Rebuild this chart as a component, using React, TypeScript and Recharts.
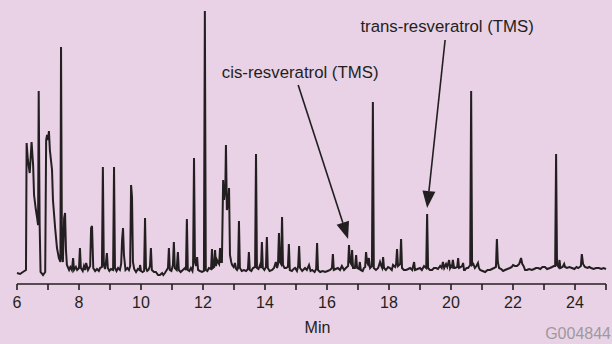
import { LineChart, Line, XAxis, YAxis, ReferenceLine } from "recharts";

const ticks = [6, 7, 8, 9, 10, 11, 12, 13, 14, 15, 16, 17, 18, 19, 20, 21, 22, 23, 24, 25];
const labelledTicks = [6, 8, 10, 12, 14, 16, 18, 20, 22, 24];

// [retention time (min), detector signal]
const trace: [number, number][] = [
  [6.0, 11], [6.1, 10], [6.19, 12], [6.29, 14], [6.31, 141], [6.35, 124], [6.41, 111], [6.47, 142],
  [6.52, 119], [6.55, 89], [6.61, 74], [6.65, 66], [6.68, 59], [6.7, 193], [6.73, 60], [6.76, 12],
  [6.84, 9], [6.91, 12], [6.94, 144], [6.97, 149], [7.0, 144], [7.03, 153], [7.06, 134], [7.13, 114],
  [7.16, 84], [7.23, 56], [7.29, 36], [7.35, 26], [7.4, 22], [7.42, 237], [7.45, 29], [7.48, 22],
  [7.52, 66], [7.55, 71], [7.58, 34], [7.61, 19], [7.68, 14], [7.72, 17], [7.77, 14], [7.81, 26],
  [7.84, 14], [7.9, 17], [7.94, 14], [8.0, 16], [8.03, 36], [8.06, 16], [8.12, 13], [8.16, 18],
  [8.2, 14], [8.23, 21], [8.29, 14], [8.36, 18], [8.39, 56], [8.42, 58], [8.46, 16], [8.52, 13],
  [8.58, 15], [8.64, 13], [8.68, 16], [8.74, 17], [8.77, 117], [8.8, 19], [8.84, 15], [8.87, 22],
  [8.9, 31], [8.93, 16], [8.98, 13], [9.03, 15], [9.1, 14], [9.13, 117], [9.16, 16], [9.21, 13],
  [9.26, 16], [9.32, 14], [9.36, 20], [9.39, 44], [9.42, 56], [9.45, 29], [9.5, 14], [9.56, 16],
  [9.61, 14], [9.65, 18], [9.68, 99], [9.71, 87], [9.74, 22], [9.78, 15], [9.84, 12], [9.9, 15],
  [9.95, 14], [9.97, 19], [10.0, 13], [10.05, 12], [10.1, 13], [10.13, 66], [10.16, 16], [10.2, 13],
  [10.24, 14], [10.29, 18], [10.32, 36], [10.35, 14], [10.42, 12], [10.48, 12], [10.55, 9], [10.61, 9],
  [10.68, 11], [10.72, 9], [10.77, 11], [10.83, 14], [10.87, 16], [10.9, 36], [10.93, 14], [10.98, 13],
  [11.03, 19], [11.06, 42], [11.09, 16], [11.15, 14], [11.19, 32], [11.22, 14], [11.28, 12], [11.35, 14],
  [11.42, 16], [11.45, 14], [11.48, 65], [11.51, 14], [11.56, 13], [11.61, 16], [11.66, 13], [11.68, 18],
  [11.71, 126], [11.74, 22], [11.78, 18], [11.81, 27], [11.84, 14], [11.9, 13], [11.97, 12], [12.03, 13],
  [12.06, 273], [12.09, 14], [12.14, 13], [12.19, 16], [12.26, 15], [12.29, 35], [12.32, 16], [12.36, 17],
  [12.39, 34], [12.42, 18], [12.45, 24], [12.48, 22], [12.52, 20], [12.55, 36], [12.58, 22], [12.61, 22],
  [12.65, 104], [12.68, 84], [12.72, 95], [12.74, 139], [12.77, 74], [12.81, 80], [12.84, 96], [12.87, 29],
  [12.91, 22], [12.94, 19], [12.99, 17], [13.03, 21], [13.07, 15], [13.1, 14], [13.13, 16], [13.16, 63],
  [13.19, 16], [13.25, 13], [13.32, 14], [13.39, 13], [13.45, 15], [13.48, 32], [13.51, 14], [13.56, 13],
  [13.61, 16], [13.68, 17], [13.71, 130], [13.74, 16], [13.79, 15], [13.84, 19], [13.87, 16], [13.9, 42],
  [13.93, 16], [13.98, 14], [14.03, 17], [14.06, 47], [14.09, 16], [14.15, 13], [14.23, 14], [14.29, 16],
  [14.35, 22], [14.39, 16], [14.42, 20], [14.45, 51], [14.48, 22], [14.52, 20], [14.55, 67], [14.58, 19],
  [14.63, 16], [14.68, 16], [14.74, 17], [14.77, 40], [14.8, 14], [14.87, 13], [14.92, 15], [14.97, 16],
  [15.03, 13], [15.07, 18], [15.1, 38], [15.13, 16], [15.2, 13], [15.29, 16], [15.35, 14], [15.42, 19],
  [15.47, 13], [15.52, 14], [15.6, 12], [15.65, 15], [15.68, 41], [15.71, 14], [15.78, 12], [15.86, 13],
  [15.94, 12], [16.02, 13], [16.1, 14], [16.16, 16], [16.19, 30], [16.22, 14], [16.28, 15], [16.35, 16],
  [16.42, 14], [16.48, 18], [16.55, 14], [16.61, 16], [16.68, 18], [16.71, 39], [16.74, 22], [16.78, 20],
  [16.81, 34], [16.84, 16], [16.9, 16], [16.94, 29], [16.97, 16], [17.03, 15], [17.06, 22], [17.09, 14],
  [17.15, 13], [17.19, 16], [17.23, 17], [17.26, 32], [17.29, 22], [17.32, 20], [17.35, 26], [17.39, 16],
  [17.45, 18], [17.48, 182], [17.51, 16], [17.58, 14], [17.65, 16], [17.71, 22], [17.75, 18], [17.78, 16],
  [17.81, 27], [17.84, 16], [17.9, 14], [17.97, 17], [18.03, 16], [18.09, 14], [18.13, 19], [18.2, 17],
  [18.23, 20], [18.26, 35], [18.29, 18], [18.36, 20], [18.39, 45], [18.42, 16], [18.48, 14], [18.55, 14],
  [18.62, 15], [18.68, 16], [18.75, 14], [18.78, 18], [18.81, 22], [18.84, 14], [18.92, 15], [19.0, 16],
  [19.06, 14], [19.13, 18], [19.2, 16], [19.23, 70], [19.26, 16], [19.32, 14], [19.39, 14], [19.45, 16],
  [19.52, 16], [19.58, 15], [19.65, 18], [19.7, 16], [19.74, 22], [19.78, 16], [19.84, 20], [19.88, 17],
  [19.94, 24], [19.97, 16], [20.0, 18], [20.03, 17], [20.06, 24], [20.1, 16], [20.13, 16], [20.2, 17],
  [20.23, 26], [20.26, 16], [20.32, 17], [20.36, 18], [20.39, 21], [20.42, 14], [20.45, 14], [20.5, 16],
  [20.55, 16], [20.62, 19], [20.65, 193], [20.68, 19], [20.72, 20], [20.77, 16], [20.82, 18], [20.87, 21],
  [20.9, 16], [20.94, 14], [21.02, 13], [21.1, 12], [21.18, 14], [21.26, 14], [21.32, 15], [21.39, 16],
  [21.45, 17], [21.48, 45], [21.51, 22], [21.55, 16], [21.62, 15], [21.68, 13], [21.74, 14], [21.82, 15],
  [21.9, 16], [21.96, 17], [22.0, 19], [22.06, 18], [22.13, 18], [22.2, 20], [22.26, 26], [22.3, 20],
  [22.34, 18], [22.39, 14], [22.45, 14], [22.52, 15], [22.61, 14], [22.68, 15], [22.74, 16], [22.81, 16],
  [22.88, 15], [22.95, 17], [23.03, 17], [23.1, 15], [23.19, 16], [23.26, 17], [23.32, 18], [23.36, 18],
  [23.39, 130], [23.42, 19], [23.47, 17], [23.5, 24], [23.53, 16], [23.6, 17], [23.65, 20], [23.68, 17],
  [23.74, 16], [23.82, 17], [23.9, 16], [23.98, 15], [24.05, 17], [24.1, 16], [24.15, 17], [24.19, 18],
  [24.22, 30], [24.26, 20], [24.32, 17], [24.4, 16], [24.46, 17], [24.52, 16], [24.6, 15], [24.68, 16],
  [24.77, 16], [24.85, 15], [24.92, 16], [25.0, 15],
];

const cisArrow = { from: [15.07, 199], to: [16.68, 45], label: "cis-resveratrol (TMS)", lift: 7 };
const transArrow = { from: [19.81, 244], to: [19.23, 76], label: "trans-resveratrol (TMS)", lift: 8 };

const data = trace.map(([t, v]) => ({ t, v }));

const INK = "#231f20";
const FONT = "'Liberation Sans', Arial, Helvetica, sans-serif";

function arrowShape(label: string, lift: number) {
  return (props: any) => {
    const { x1, y1, x2, y2 } = props;
    const dx = x2 - x1;
    const dy = y2 - y1;
    const len = Math.hypot(dx, dy) || 1;
    const ux = dx / len;
    const uy = dy / len;
    const headL = 17;
    const headW = 6.5;
    const bx = x2 - ux * headL;
    const by = y2 - uy * headL;
    return (
      <g>
        <line x1={x1} y1={y1} x2={bx} y2={by} stroke={INK} strokeWidth={1.6} />
        <polygon
          points={`${x2},${y2} ${bx - uy * headW},${by + ux * headW} ${bx + uy * headW},${by - ux * headW}`}
          fill={INK}
        />
        <text x={x1 + 2} y={y1 - lift} textAnchor="middle" fontSize={16.8} fontFamily={FONT} fill={INK}>
          {label}
        </text>
      </g>
    );
  };
}

function renderTick(props: any) {
  const { x, y, payload } = props;
  if (!labelledTicks.includes(payload.value)) return <g />;
  return (
    <text x={x} y={y} dy="0.71em" textAnchor="middle" fontSize={16} fontFamily={FONT} fill={INK}>
      {payload.value}
    </text>
  );
}

function axisTitle(props: any) {
  const { viewBox } = props;
  return (
    <g fontFamily={FONT} fontSize={16}>
      <text x={viewBox.x + viewBox.width / 2 + 6} y={viewBox.y + 49} textAnchor="middle" fill={INK}>
        Min
      </text>
      <text x={611} y={viewBox.y + 55} textAnchor="end" fill="#9d9a9c">
        G004844
      </text>
    </g>
  );
}

export default function App() {
  return (
    <div style={{ position: "absolute", left: 0, top: 0, width: 612, height: 344, background: "#e9d1e6" }}>
      <LineChart width={612} height={344} data={data} margin={{ top: 10, right: 6, bottom: 0, left: 17 }}>
        <XAxis
          dataKey="t"
          type="number"
          domain={[6, 25]}
          ticks={ticks}
          interval={0}
          tick={renderTick}
          tickSize={6}
          tickMargin={7}
          height={60}
          axisLine={{ stroke: INK, strokeWidth: 1.6 }}
          tickLine={{ stroke: INK, strokeWidth: 1.6 }}
          label={{ content: axisTitle }}
        />
        <YAxis hide type="number" domain={[0, 274]} allowDataOverflow />
        <Line
          type="linear"
          dataKey="v"
          stroke={INK}
          strokeWidth={2}
          dot={false}
          isAnimationActive={false}
        />
        <ReferenceLine
          segment={[
            { x: cisArrow.from[0], y: cisArrow.from[1] },
            { x: cisArrow.to[0], y: cisArrow.to[1] },
          ]}
          shape={arrowShape(cisArrow.label, cisArrow.lift)}
        />
        <ReferenceLine
          segment={[
            { x: transArrow.from[0], y: transArrow.from[1] },
            { x: transArrow.to[0], y: transArrow.to[1] },
          ]}
          shape={arrowShape(transArrow.label, transArrow.lift)}
        />
      </LineChart>
    </div>
  );
}
